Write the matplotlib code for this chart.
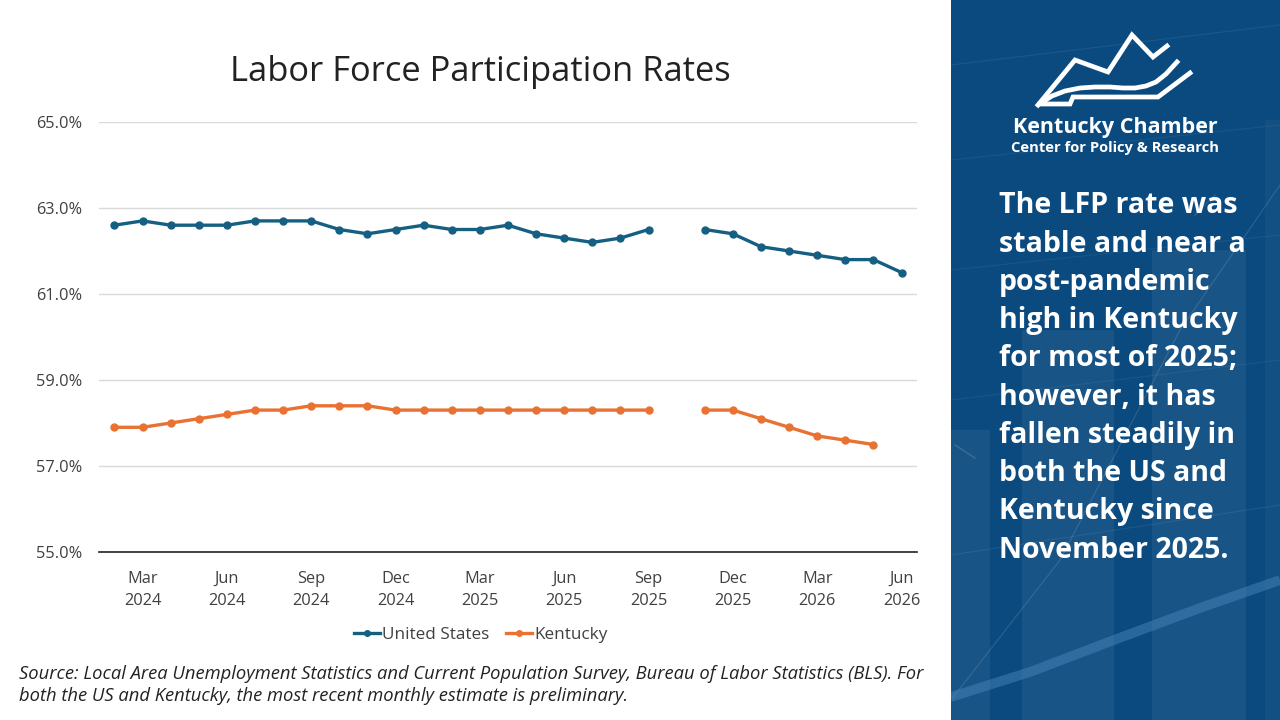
import matplotlib
matplotlib.use("Agg")
import matplotlib.pyplot as plt
import numpy as np
from matplotlib.lines import Line2D
from matplotlib.patches import Rectangle, Polygon

plt.rcParams['font.family'] = ['Open Sans', 'DejaVu Sans']

# ---- data ----
months = ["Feb 2024", "Mar 2024", "Apr 2024", "May 2024", "Jun 2024", "Jul 2024", "Aug 2024",
          "Sep 2024", "Oct 2024", "Nov 2024", "Dec 2024", "Jan 2025", "Feb 2025", "Mar 2025",
          "Apr 2025", "May 2025", "Jun 2025", "Jul 2025", "Aug 2025", "Sep 2025", "Oct 2025",
          "Nov 2025", "Dec 2025", "Jan 2026", "Feb 2026", "Mar 2026", "Apr 2026", "May 2026",
          "Jun 2026"]
us = [62.6, 62.7, 62.6, 62.6, 62.6, 62.7, 62.7, 62.7, 62.5, 62.4, 62.5, 62.6, 62.5, 62.5,
      62.6, 62.4, 62.3, 62.2, 62.3, 62.5, np.nan,
      62.5, 62.4, 62.1, 62.0, 61.9, 61.8, 61.8, 61.5]
ky = [57.9, 57.9, 58.0, 58.1, 58.2, 58.3, 58.3, 58.4, 58.4, 58.4, 58.3, 58.3, 58.3, 58.3,
      58.3, 58.3, 58.3, 58.3, 58.3, 58.3, np.nan,
      58.3, 58.3, 58.1, 57.9, 57.7, 57.6, 57.5, np.nan]
tick_idx = [1, 4, 7, 10, 13, 16, 19, 22, 25, 28]
tick_labels = ["Mar\n2024", "Jun\n2024", "Sep\n2024", "Dec\n2024", "Mar\n2025",
               "Jun\n2025", "Sep\n2025", "Dec\n2025", "Mar\n2026", "Jun\n2026"]
yticks = [55, 57, 59, 61, 63, 65]

title = "Labor Force Participation Rates"
source = ("Source: Local Area Unemployment Statistics and Current Population Survey, Bureau of Labor Statistics (BLS). For\n"
          "both the US and Kentucky, the most recent monthly estimate is preliminary.")
panel_text = ("The LFP rate was\nstable and near a\npost-pandemic\nhigh in Kentucky\nfor most of 2025;\n"
              "however, it has\nfallen steadily in\nboth the US and\nKentucky since\nNovember 2025.")

US_C = "#156082"
KY_C = "#E97132"

W, H = 1280, 720
fig = plt.figure(figsize=(12.8, 7.2), dpi=100)
fig.patch.set_facecolor("white")

def fx(px):
    return px / W

def fy(py):
    return 1 - py / H

ax = fig.add_axes([fx(99), fy(552), fx(917) - fx(99), fy(122) - fy(552)])
x = np.arange(len(months))
ax.plot(x, us, color=US_C, lw=2.4, marker='o', ms=5, label="United States")
ax.plot(x, ky, color=KY_C, lw=2.4, marker='o', ms=5, label="Kentucky")
ax.set_xlim(-0.55, len(months) - 0.45)
ax.set_ylim(55, 65)
ax.set_yticks(yticks)
ax.set_yticklabels([f"{v:.1f}%" for v in yticks])
ax.set_xticks(tick_idx)
ax.set_xticklabels(tick_labels, linespacing=1.55)
ax.tick_params(axis='both', length=0, labelsize=11.8, colors="#404040")
ax.tick_params(axis='x', pad=13.5)
ax.tick_params(axis='y', pad=12)
ax.grid(axis='y', color="#d9d9d9", lw=1)
ax.set_axisbelow(True)
for s in ['top', 'right', 'left']:
    ax.spines[s].set_visible(False)
ax.spines['bottom'].set_color("#222222")
ax.spines['bottom'].set_linewidth(1.2)

fig.text(fx(480), fy(72), title, ha='center', va='center', fontsize=24.8, color="#222222")
leg = fig.legend(handles=[Line2D([0], [0], color=US_C, lw=2.4, marker='o', ms=4),
                          Line2D([0], [0], color=KY_C, lw=2.4, marker='o', ms=4)],
                 labels=["United States", "Kentucky"], loc='center',
                 bbox_to_anchor=(fx(481), fy(635)), ncol=2, frameon=False,
                 fontsize=12.3, handlelength=1.5, handletextpad=0.15, columnspacing=1.0)
for t in leg.get_texts():
    t.set_color("#404040")
fig.text(fx(19), fy(685), source, ha='left', va='center', fontsize=13.2,
         style='italic', color="#222222", linespacing=1.3)

# ---- right panel ----
pax = fig.add_axes([fx(951), 0, 1 - fx(951), 1])
pax.set_xlim(951, 1280)
pax.set_ylim(720, 0)
pax.axis('off')
pax.add_patch(Rectangle((951, 0), 329, 720, color="#0B4A7F", zorder=0))
# subtle background bands
for (x0, w, y0, a) in [(951, 39, 430, 0.06), (1022, 92, 330, 0.06), (1152, 94, 250, 0.06),
                       (1265, 15, 120, 0.03)]:
    pax.add_patch(Rectangle((x0, y0), w, 720 - y0, color="white", alpha=a, lw=0, zorder=1))
# faint lines
for (xs, ys, a, lw) in [([951, 1280], [65, 25], 0.07, 0.8), ([951, 1280], [160, 125], 0.06, 0.8),
                        ([951, 1280], [270, 235], 0.06, 0.8), ([951, 1280], [400, 360], 0.06, 0.8),
                        ([951, 1280], [555, 505], 0.07, 0.8), ([951, 1060, 1180, 1280], [700, 560, 330, 185], 0.13, 0.8),
                        ([955, 975], [445, 458], 0.15, 1.0), ([1195, 1215], [215, 195], 0.12, 1.0)]:
    pax.plot(xs, ys, color="white", alpha=a, lw=lw, zorder=2)
pax.plot([951, 1030, 1114, 1200, 1280], [697, 672, 640, 608, 580], color="#4D8BC0", alpha=0.45,
         lw=7, zorder=2, solid_capstyle='butt')

# logo
lw_logo = 3.4
pax.plot([1038, 1075, 1108, 1132, 1153, 1167], [105, 60, 72, 35, 57, 46], color="white",
         lw=lw_logo, solid_joinstyle='miter', zorder=3)
pax.plot([1040, 1070, 1073, 1158, 1190], [104, 104, 97, 97, 73], color="white", lw=lw_logo,
         solid_joinstyle='miter', zorder=3)
wave_x = [1041, 1052, 1065, 1080, 1095, 1110, 1123, 1135, 1146, 1156, 1166, 1177]
wave_y = [103, 96, 91, 88, 87, 87, 88, 88, 86, 82, 74, 62]
pax.plot(wave_x, wave_y, color="white", lw=lw_logo, zorder=3)

pax.text(1115, 128, "Kentucky Chamber", ha='center', va='center', fontsize=15.5,
         fontweight='bold', color="white", zorder=4)
pax.text(1115, 148, "Center for Policy & Research", ha='center', va='center', fontsize=10.6,
         fontweight='bold', color="white", zorder=4)
pax.text(999, 378, panel_text, ha='left', va='center', fontsize=20.5, fontweight='bold',
         color="white", linespacing=1.42, zorder=4)

fig.savefig("out.png", dpi=100)
